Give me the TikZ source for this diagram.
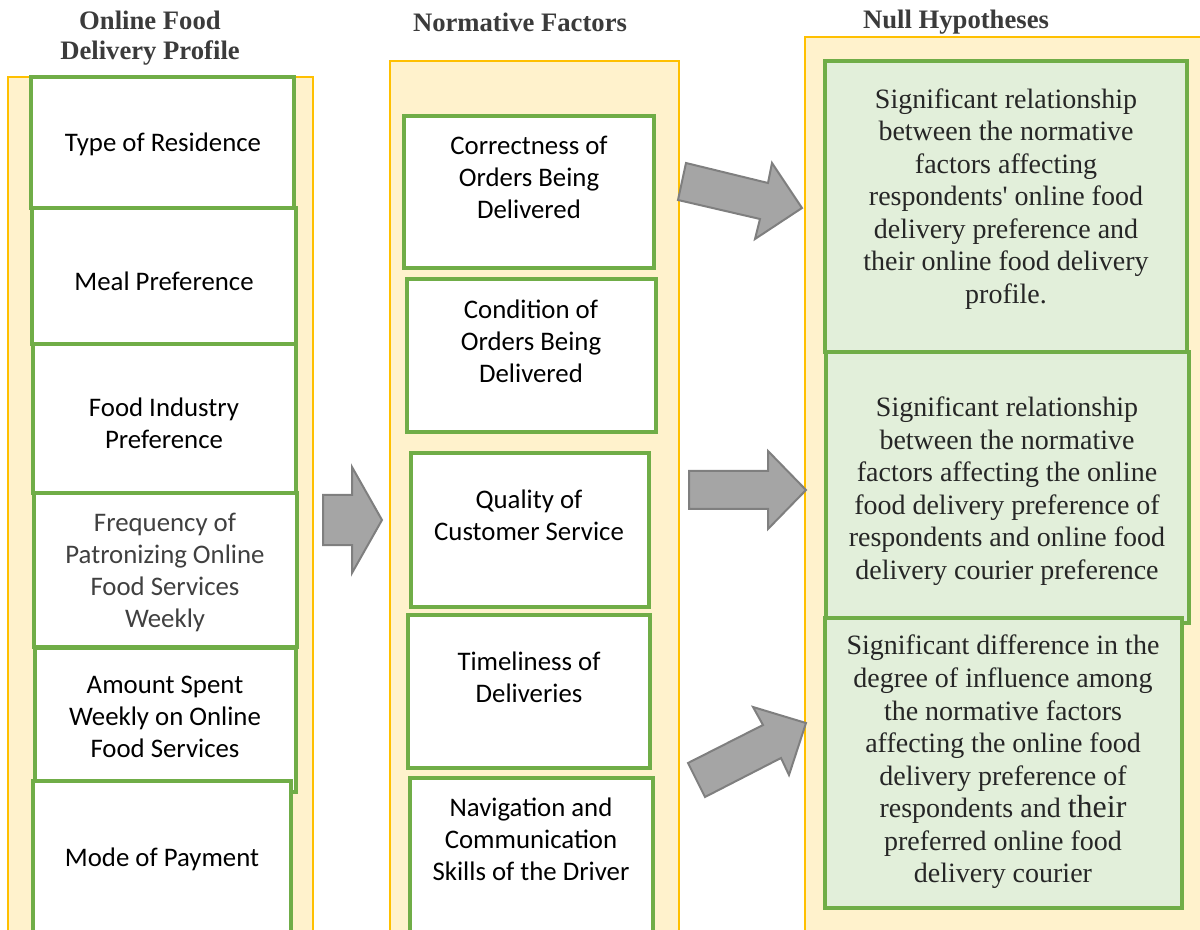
\documentclass[tikz,border=0pt]{standalone}
\usepackage{fontspec}
\setmainfont{Liberation Serif}
\newfontfamily\calibri{Carlito}
\newfontfamily\hypfont{Liberation Serif}[Ligatures=TeXOff]
\usetikzlibrary{fit}
\definecolor{ylwfill}{HTML}{FFF2CC}
\definecolor{ylwline}{HTML}{FFC000}
\definecolor{grnline}{HTML}{70AD47}
\definecolor{grnfill}{HTML}{E2EFDA}
\definecolor{arrfill}{HTML}{A5A5A5}
\definecolor{arrline}{HTML}{7F7F7F}
\definecolor{headtxt}{HTML}{3B3B3B}
\definecolor{hyptxt}{HTML}{262626}
\definecolor{freqtxt}{HTML}{404040}
\begin{document}
\begin{tikzpicture}[x=0.75pt,y=-0.75pt,
  column/.style={fill=ylwfill,draw=ylwline,line width=1.1pt,inner sep=0pt},
  factorbox/.style={fill=white,draw=grnline,line width=2.3pt,inner sep=0pt},
  hypbox/.style={fill=grnfill,draw=grnline,line width=2.3pt,inner sep=0pt},
  boxtext/.style={font=\calibri\fontsize{20.1}{24}\selectfont,align=center,inner sep=0pt,text=black},
  hyptext/.style={font=\hypfont\fontsize{21}{24.4}\selectfont,align=center,inner sep=0pt,text=hyptxt},
  headtext/.style={font=\hypfont\bfseries\fontsize{20}{22.5}\selectfont,align=center,inner sep=0pt,text=headtxt},
  blockarr/.style={fill=arrfill,draw=arrline,line width=1.5pt,line join=miter}]
\useasboundingbox (0,0) rectangle (1200,930);
\clip (0,0) rectangle (1200,930);

% headings
\node[headtext] (hprof) at (150,38) {Online Food\\Delivery Profile};
\node[headtext] (hnorm) at (520,22) {Normative Factors};
\node[headtext] (hnull) at (956,22) {Null Hypotheses};

% columns
\node[column,fit={(8,77)(313,945)}] (colprof) {};
\node[column,fit={(390,61)(679,945)}] (colnorm) {};
\node[column,fit={(805,37)(1215,945)}] (colnull) {};

% profile boxes
\node[factorbox,fit={(31,77)(294,208)}] (b1) {};
\node[factorbox,fit={(32,208)(296,344)}] (b2) {};
\node[factorbox,fit={(33,344)(296,493)}] (b3) {};
\node[factorbox,fit={(34,493)(297,647)}] (b4) {};
\node[factorbox,fit={(35,648)(296,792)}] (b5) {};
\node[factorbox,fit={(33,781)(291,945)}] (b6) {};
\node[boxtext] (t1) at (163,144) {Type of Residence};
\node[boxtext] (t2) at (164,281) {Meal Preference};
\node[boxtext] (t3) at (164,423) {Food Industry\\Preference};
\node[boxtext,text=freqtxt] (t4) at (165,572) {Frequency of\\Patronizing Online\\Food Services\\Weekly};
\node[boxtext] (t5) at (165,717) {Amount Spent\\Weekly on Online\\Food Services};
\node[boxtext] (t6) at (162,859) {Mode of Payment};

% normative factor boxes
\node[factorbox,fit={(404,116)(654,268)}] (n1) {};
\node[factorbox,fit={(407,279)(656,432)}] (n2) {};
\node[factorbox,fit={(411,453)(649,607)}] (n3) {};
\node[factorbox,fit={(408,615)(650,768)}] (n4) {};
\node[factorbox,fit={(410,778)(653,945)}] (n5) {};
\node[boxtext] (m1) at (529,177) {Correctness of\\Orders Being\\Delivered};
\node[boxtext] (m2) at (531,341) {Condition of\\Orders Being\\Delivered};
\node[boxtext] (m3) at (529,515) {Quality of\\Customer Service};
\node[boxtext] (m4) at (529,677) {Timeliness of\\Deliveries};
\node[boxtext] (m5) at (531,839) {Navigation and\\Communication\\Skills of the Driver};

% hypothesis boxes
\node[hypbox,fit={(825,61)(1187,352)}] (h1) {};
\node[hypbox,fit={(826,352)(1189,623)}] (h2) {};
\node[hypbox,fit={(825,618)(1182,908)}] (h3) {};
\node[hyptext] (ht1) at (1006,199) {Significant relationship\\between the normative\\factors affecting\\respondents' online food\\delivery preference and\\their online food delivery\\profile.};
\node[hyptext] (ht2) at (1007,491) {Significant relationship\\between the normative\\factors affecting the online\\food delivery preference of\\respondents and online food\\delivery courier preference};
\node[hyptext] (ht3) at (1003,762) {Significant difference in the\\degree of influence among\\the normative factors\\affecting the online food\\delivery preference of\\respondents and {\fontsize{24}{24.4}\selectfont their}\\preferred online food\\delivery courier};

% block arrows
\filldraw[blockarr] (323,495) -- (352,495) -- (352,467) -- (382,520) -- (352,573) -- (352,545) -- (323,545) -- cycle;
\filldraw[blockarr] (689,471) -- (768,471) -- (768,451) -- (806,490) -- (768,529) -- (768,509) -- (689,509) -- cycle;
\filldraw[blockarr] (686,163) -- (768,183) -- (772,163) -- (802,208) -- (755,239) -- (760,219) -- (678,200) -- cycle;
\filldraw[blockarr] (688,763) -- (763,725) -- (753,707) -- (806,723) -- (789,775) -- (781,758) -- (705,797) -- cycle;
\end{tikzpicture}
\end{document}
